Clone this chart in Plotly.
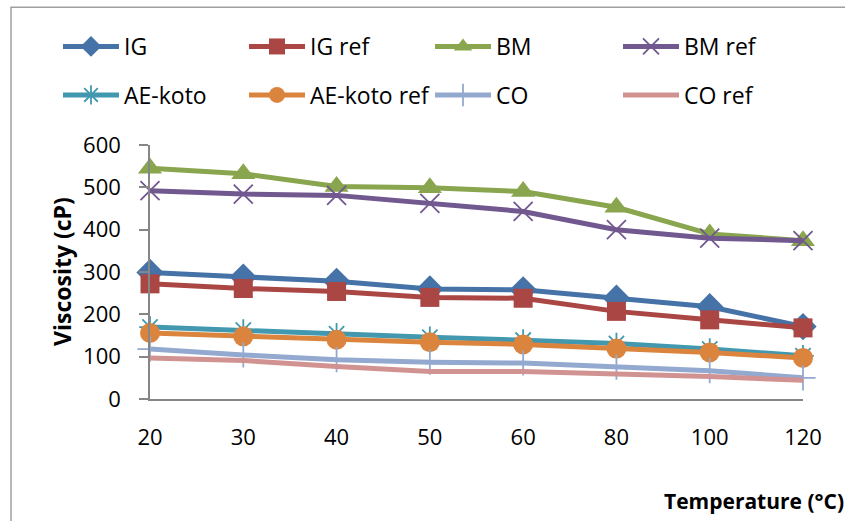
import plotly.graph_objects as go

# ---- data ----
temps = ["20", "30", "40", "50", "60", "80", "100", "120"]
ig = [299, 288, 278, 260, 258, 238, 218, 171]
ig_ref = [272, 261, 254, 240, 238, 207, 187, 168]
bm = [545, 532, 502, 499, 490, 453, 390, 374]
bm_ref = [492, 484, 481, 462, 443, 400, 380, 374]
ae_koto = [170, 163, 154, 146, 139, 131, 118, 102]
ae_koto_ref = [156, 148, 140, 134, 129, 119, 110, 97]
co = [118, 104, 93, 87, 85, 75, 67, 50]
co_ref = [97, 91, 77, 65, 65, 60, 53, 44]

FONT = "Open Sans, Lato, sans-serif"

series = [
    ("IG", ig, "#4572A7", "diamond", 21),
    ("IG ref", ig_ref, "#AA4643", "square", 19),
    ("BM", bm, "#89A54E", "triangle-up", 21),
    ("BM ref", bm_ref, "#71588F", "x-thin", 19),
    ("AE-koto", ae_koto, "#4198AF", "asterisk", 18),
    ("AE-koto ref", ae_koto_ref, "#DB843D", "circle", 20),
    ("CO", co, "#93A9CF", "cross-thin", 18),
    ("CO ref", co_ref, "#D19392", None, 0),
]

W, H = 845, 521
plot_l, plot_r, plot_t, plot_b = 150, 803, 145, 399.3

# legend grid placement (pixels): 4 columns x 2 rows
col_x = [58, 244, 430, 618]
row_y = [46.5, 95]

fig = go.Figure()
legends = {}
for i, (name, vals, color, sym, size) in enumerate(series):
    leg_id = "legend" if i == 0 else f"legend{i + 1}"
    marker = dict(color=color, size=size)
    mode = "lines"
    if sym is not None:
        mode = "lines+markers"
        marker["symbol"] = sym
        if sym in ("x-thin", "asterisk", "cross-thin"):
            marker["line"] = dict(color=color, width=1.8)
    fig.add_trace(go.Scatter(
        x=temps, y=vals, name=name, mode=mode,
        line=dict(color=color, width=5),
        marker=marker, cliponaxis=False, legend=leg_id,
    ))
    legends[leg_id] = dict(
        orientation="h", xref="container", yref="container",
        x=col_x[i % 4] / W, y=1 - row_y[i // 4] / H,
        xanchor="left", yanchor="middle", itemwidth=56,
        font=dict(size=23, family=FONT), bgcolor="rgba(0,0,0,0)",
    )

fig.update_layout(
    width=W, height=H,
    margin=dict(l=plot_l, r=W - plot_r, t=plot_t, b=H - plot_b, autoexpand=False),
    paper_bgcolor="white", plot_bgcolor="white",
    font=dict(family=FONT, color="black", size=22),
    showlegend=True,
    xaxis=dict(type="category", range=[0, 7], showgrid=False, zeroline=False,
               showline=True, linecolor="#868686", linewidth=1.5,
               ticks="", ticklabelstandoff=18, tickfont=dict(size=22, family=FONT)),
    yaxis=dict(range=[0, 600], dtick=100, showgrid=False, zeroline=False,
               showline=True, linecolor="#868686", linewidth=1.5,
               ticks="outside", ticklen=9, tickwidth=1.5, tickcolor="#868686",
               ticklabelstandoff=14, tickfont=dict(size=22, family=FONT)),
    annotations=[
        dict(text="<b>Viscosity (cP)</b>", xref="paper", yref="paper",
             x=(62 - plot_l) / (plot_r - plot_l), y=0.5, textangle=-90,
             showarrow=False, xanchor="center", yanchor="middle",
             font=dict(size=23, family=FONT)),
        dict(text="<b>Temperature (°C)</b>", xref="paper", yref="paper",
             x=(753.5 - plot_l) / (plot_r - plot_l),
             y=(plot_b - 501) / (plot_b - plot_t),
             showarrow=False, xanchor="center", yanchor="middle",
             font=dict(size=21, family=FONT)),
    ],
    shapes=[
        dict(type="rect", xref="paper", yref="paper",
             x0=(11 - plot_l) / (plot_r - plot_l), x1=1.3,
             y0=-0.7, y1=(plot_b - 7) / (plot_b - plot_t),
             line=dict(color="#A0A0A0", width=1.5), fillcolor="rgba(0,0,0,0)",
             layer="below"),
    ],
)
fig.update_layout(**legends)

fig.write_html("out.html")
